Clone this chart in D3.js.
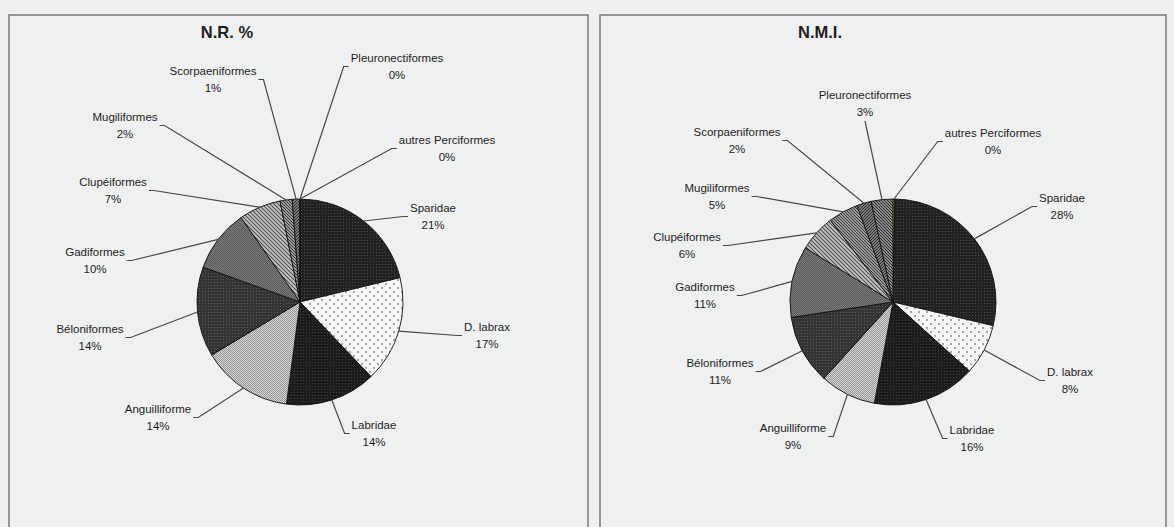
<!DOCTYPE html>
<html>
<head>
<meta charset="utf-8">
<script src="https://cdn.jsdelivr.net/npm/d3@7"></script>
<style>
  html, body { margin: 0; padding: 0; background: #eef0ef; }
  svg { display: block; font-family: "Liberation Sans", Arial, sans-serif; }
</style>
</head>
<body>
<svg id="chart" width="1174" height="527"></svg>
<script>
// ---- Data ---------------------------------------------------------------
// Slices in drawing order, clockwise from 12 o'clock.
const categories = [
  "autres Perciformes", "Sparidae", "D. labrax", "Labridae", "Anguilliforme",
  "Béloniformes", "Gadiformes", "Clupéiformes", "Mugiliformes",
  "Scorpaeniformes", "Pleuronectiformes"
];
// Number of remains (%)
const nrValues  = [0, 21.2, 16.7, 14.2, 14.3, 14.1, 9.8, 6.6, 1.9, 1.2, 0];
// Minimum number of individuals (%)
const nmiValues = [0.3, 28.4, 8.0, 16.2, 8.8, 10.9, 11.2, 5.8, 4.7, 2.3, 3.4];
const chartTitles = ["N.R. %", "N.M.I."];

// ---- Layout -------------------------------------------------------------
const W = 1174, H = 527, R = 103;
const panels = [
  { x: 9,   y: 15, w: 579, h: 540, cx: 300, cy: 302 },
  { x: 600, y: 15, w: 566, h: 540, cx: 893, cy: 302 }
];
// label anchor (centre of the name line) relative to the pie centre
const nrLabelOffsets = [
  [147, -162], [133, -94], [187, 25], [74, 123], [-142, 107],
  [-210, 27], [-205, -50], [-187, -120], [-175, -185], [-87, -231], [97, -244]
];
const nmiLabelOffsets = [
  [100, -169], [169, -104], [177, 70], [79, 128], [-100, 126],
  [-173, 61], [-188, -15], [-206, -65], [-176, -114], [-156, -170], [-28, -207]
];
const LINE = 17;

const svg = d3.select("#chart");
svg.append("rect").attr("width", W).attr("height", H).attr("fill", "#eef0ef");

// ---- Fill patterns ------------------------------------------------------
const defs = svg.append("defs");
function dotPattern(id, size, bg, fg, cells) {
  const p = defs.append("pattern").attr("id", id)
    .attr("patternUnits", "userSpaceOnUse").attr("width", size).attr("height", size);
  p.append("rect").attr("width", size).attr("height", size).attr("fill", bg);
  cells.forEach(([x, y]) => p.append("rect").attr("x", x).attr("y", y)
    .attr("width", 1).attr("height", 1).attr("fill", fg));
}
function stripePattern(id, size, bg, fg, sw, dir) {
  const p = defs.append("pattern").attr("id", id)
    .attr("patternUnits", "userSpaceOnUse").attr("width", size).attr("height", size);
  p.append("rect").attr("width", size).attr("height", size).attr("fill", bg);
  const s = size;
  const d = dir === "\\"
    ? `M0,0L${s},${s}M${-s / 2},${s / 2}L${s / 2},${s * 1.5}M${s / 2},${-s / 2}L${s * 1.5},${s / 2}`
    : `M0,${s}L${s},0M${-s / 2},${s / 2}L${s / 2},${-s / 2}M${s / 2},${s * 1.5}L${s * 1.5},${s / 2}`;
  p.append("path").attr("d", d).attr("stroke", fg).attr("stroke-width", sw);
}
// D. labrax: sparse dots on white
(function () {
  const p = defs.append("pattern").attr("id", "p-dlabrax")
    .attr("patternUnits", "userSpaceOnUse").attr("width", 8).attr("height", 8);
  p.append("rect").attr("width", 8).attr("height", 8).attr("fill", "#f6f6f6");
  [[2, 2], [6, 6]].forEach(([x, y]) => p.append("circle").attr("cx", x).attr("cy", y)
    .attr("r", 0.9).attr("fill", "#7e7e7e"));
})();
dotPattern("p-sparidae", 3, "#222222", "#484848", [[1, 1]]);
dotPattern("p-labridae", 3, "#1c1c1c", "#3c3c3c", [[0, 0]]);
dotPattern("p-anguill", 2, "#d4d4d4", "#979797", [[0, 0], [1, 1]]);
dotPattern("p-belon", 3, "#343434", "#5a5a5a", [[1, 1]]);
dotPattern("p-gadi", 2, "#7e7e7e", "#565656", [[0, 0], [1, 1]]);
stripePattern("p-clupe", 4, "#c6c6c6", "#4e4e4e", 1.1, "\\");
stripePattern("p-mugil", 3, "#9a9a9a", "#3a3a3a", 1.0, "\\");
stripePattern("p-scorp", 3, "#7a7a7a", "#2e2e2e", 1.0, "/");
stripePattern("p-pleuro", 3, "#8a8a8a", "#2a2a2a", 1.0, "\\");
const sliceFills = [
  "#b4c23a", "url(#p-sparidae)", "url(#p-dlabrax)", "url(#p-labridae)", "url(#p-anguill)",
  "url(#p-belon)", "url(#p-gadi)", "url(#p-clupe)", "url(#p-mugil)",
  "url(#p-scorp)", "url(#p-pleuro)"
];

// ---- Panels -------------------------------------------------------------
panels.forEach(p => {
  svg.append("rect").attr("x", p.x).attr("y", p.y).attr("width", p.w).attr("height", p.h)
    .attr("fill", "#eff0f0").attr("stroke", "#808080").attr("stroke-width", 1.6);
});

const pieGen = d3.pie().sort(null).value(d => d.v).startAngle(0).endAngle(2 * Math.PI);
const arcGen = d3.arc().innerRadius(0).outerRadius(R);

function drawPie(panel, values, offsets, title) {
  const { cx, cy } = panel;
  const g = svg.append("g");
  const total = d3.sum(values);
  const arcs = pieGen(categories.map((c, i) => ({ c, v: values[i] })));

  g.append("text").attr("x", cx - 73).attr("y", 38)
    .attr("text-anchor", "middle").attr("font-weight", "bold")
    .attr("font-size", 16.5).attr("fill", "#1e1e1e").text(title);

  const slices = g.append("g").attr("transform", `translate(${cx},${cy})`);
  slices.selectAll("path").data(arcs).join("path")
    .attr("d", arcGen)
    .attr("fill", (d, i) => sliceFills[i])
    .attr("stroke", "#111").attr("stroke-width", 0.9).attr("stroke-linejoin", "round");

  const labels = g.append("g").attr("font-size", 11.5).attr("fill", "#1e1e1e");
  const leaders = g.append("g").attr("fill", "none").attr("stroke", "#484848").attr("stroke-width", 1.2);

  arcs.forEach((d, i) => {
    const lx = cx + offsets[i][0], ly = cy + offsets[i][1];
    const pct = Math.round(d.data.v / total * 100) + "%";
    const t1 = labels.append("text").attr("x", lx).attr("y", ly + 4)
      .attr("text-anchor", "middle").text(d.data.c);
    const t2 = labels.append("text").attr("x", lx).attr("y", ly + 4 + LINE)
      .attr("text-anchor", "middle").text(pct);
    const w = Math.max(t1.node().getComputedTextLength(), t2.node().getComputedTextLength());

    const a = (d.startAngle + d.endAngle) / 2;
    const px = cx + R * Math.sin(a), py = cy - R * Math.cos(a);
    let path;
    if (px >= lx - w / 2 && px <= lx + w / 2 && py > ly) {
      path = `M${lx},${ly + LINE + 9}L${px},${py}`;
    } else if (px < lx) {
      const ax = lx - w / 2 - 2, ay = ly + LINE / 2;
      path = `M${ax},${ay}L${ax - 5},${ay}L${px},${py}`;
    } else {
      const ax = lx + w / 2 + 2, ay = ly + LINE / 2;
      path = `M${ax},${ay}L${ax + 5},${ay}L${px},${py}`;
    }
    leaders.append("path").attr("d", path);
  });
}

drawPie(panels[0], nrValues, nrLabelOffsets, chartTitles[0]);
drawPie(panels[1], nmiValues, nmiLabelOffsets, chartTitles[1]);
</script>
</body>
</html>
